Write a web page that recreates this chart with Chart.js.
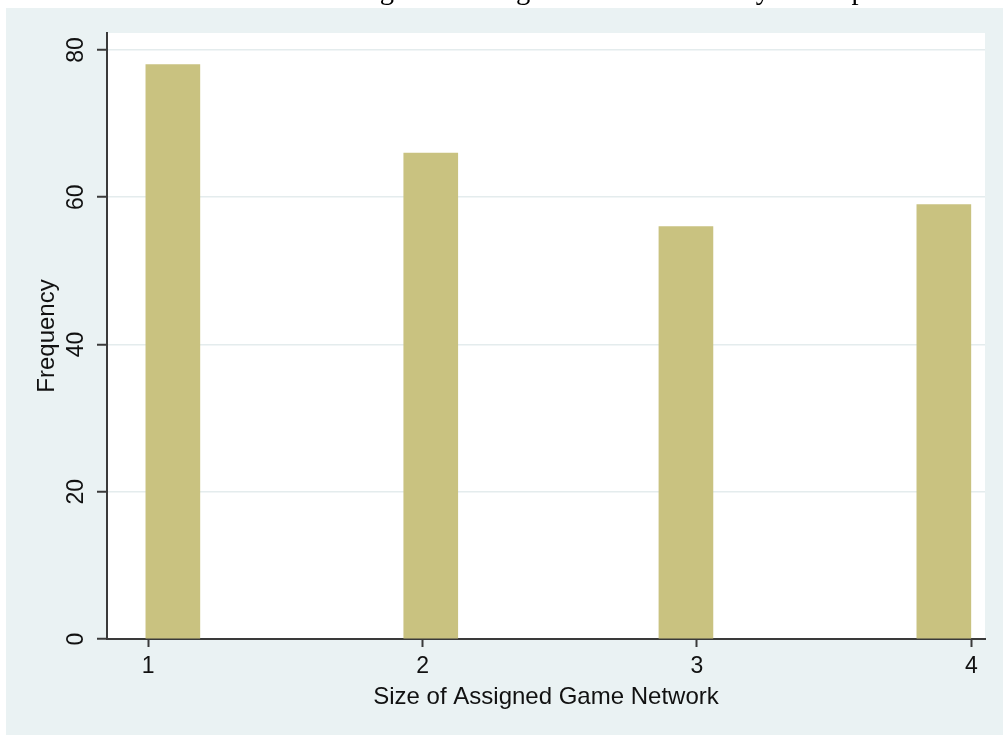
<!DOCTYPE html>
<html>
<head>
<meta charset="utf-8">
<script src="https://cdn.jsdelivr.net/npm/chart.js@4/dist/chart.umd.min.js"></script>
<style>
  html,body{margin:0;padding:0;background:#fff;width:1003px;height:737px;overflow:hidden;position:relative;}
  #graph{position:absolute;left:6px;top:8px;right:0;bottom:2px;background:#eaf2f3;}
  #title{position:absolute;left:356px;top:-25px;font:28.5px "Liberation Serif",serif;line-height:29px;color:#000;white-space:nowrap;z-index:2;}
  #c{position:absolute;left:0;top:0;z-index:1;}
</style>
</head>
<body>
<div id="graph"></div>
<div id="title">Figure 8: Assigned Network Size by Participant</div>
<canvas id="c" width="1003" height="737"></canvas>
<script>
// data
const xTicks = [1, 2, 3, 4];
const binMid = [1.09, 2.03, 2.96, 3.9];
const freq = [78, 66, 56, 59];
const yTicks = [0, 20, 40, 60, 80];

const axisCol = '#3a3a3a', gridCol = '#e4eced', barCol = '#c9c280';
const font = {family:'"Liberation Sans", Arial, sans-serif', size:23};
const titleFont = {family:'"Liberation Sans", Arial, sans-serif', size:24};

// white plot region behind the bars
const plotBg = {id:'plotBg', beforeDraw(ch){
  const a = ch.chartArea, ctx = ch.ctx;
  ctx.save(); ctx.fillStyle = '#fff'; ctx.fillRect(a.left, a.top, a.right-a.left, a.bottom-a.top); ctx.restore();
}};

new Chart(document.getElementById('c'), {
  type:'bar',
  data:{datasets:[{data: binMid.map((x,i)=>({x, y:freq[i]})), backgroundColor:barCol, borderWidth:0, barThickness:54}]},
  options:{
    responsive:false, animation:false, devicePixelRatio:1,
    layout:{padding:{top:33, right:18, left:0, bottom:0}},
    plugins:{legend:{display:false}, tooltip:{enabled:false}},
    scales:{
      x:{type:'linear', min:0.85, max:4.05, offset:false,
        afterBuildTicks: s=>{ s.ticks = xTicks.map(v=>({value:v})); },
        afterFit: s=>{ s.height = 98; },
        grid:{offset:false, drawOnChartArea:false, drawTicks:true, tickLength:8, tickColor:axisCol, tickWidth:2},
        border:{color:axisCol, width:2},
        ticks:{font, color:'#111', padding:6, maxRotation:0, autoSkip:false},
        title:{display:true, text:'Size of Assigned Game Network', font:titleFont, color:'#111', padding:{top:0, bottom:25}}
      },
      y:{min:0, max:82.3,
        afterBuildTicks: s=>{ s.ticks = yTicks.map(v=>({value:v})); },
        afterFit: s=>{ s.width = 107; },
        grid:{color:gridCol, lineWidth:1.5, drawTicks:true, tickLength:10, tickColor:axisCol, tickWidth:2},
        border:{color:axisCol, width:2},
        ticks:{font, color:'#111', padding:8, minRotation:90, maxRotation:90, crossAlign:'center'},
        title:{display:true, text:'Frequency', font:titleFont, color:'#111', padding:{top:33, bottom:0}}
      }
    }
  },
  plugins:[plotBg]
});
</script>
</body>
</html>
